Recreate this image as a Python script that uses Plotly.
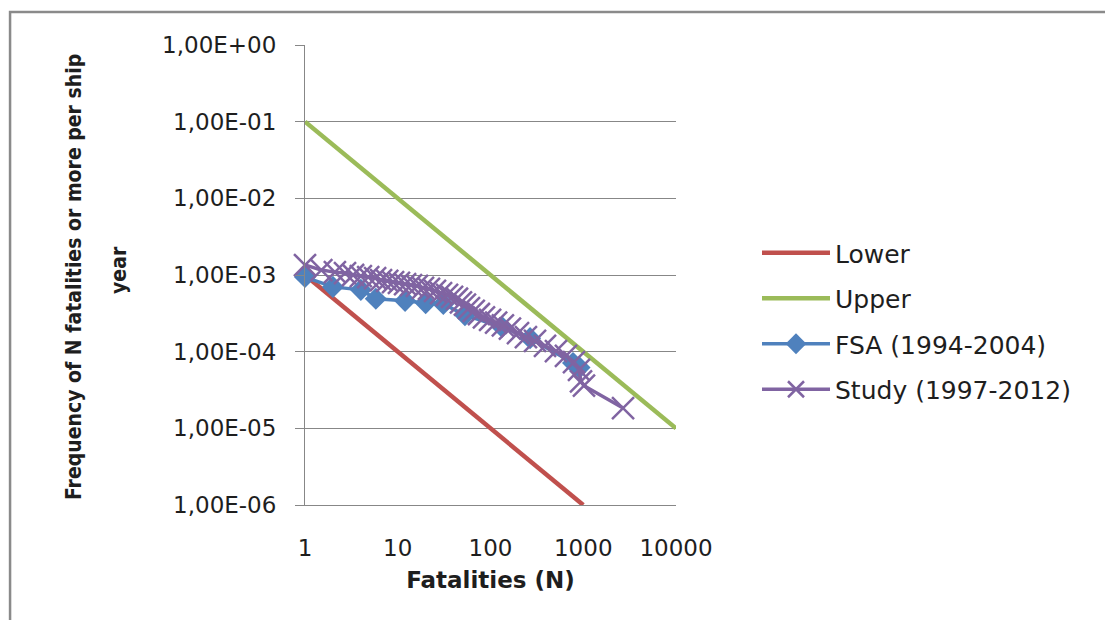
import plotly.graph_objects as go

# Tolerability criteria (F-N limit lines)
lower_n = [1, 1000]
lower_f = [1e-3, 1e-6]
upper_n = [1, 10000]
upper_f = [1e-1, 1e-5]

# FSA (1994-2004) F-N curve
fsa_n = [1, 2.0, 4.0, 5.8, 12, 20, 31, 53, 133, 267, 776, 912]
fsa_f = [9.4e-4, 7.0e-4, 6.4e-4, 4.9e-4, 4.6e-4, 4.3e-4, 4.2e-4, 3.0e-4, 2.1e-4, 1.5e-4, 7.1e-5, 6.2e-5]

# Study (1997-2012) F-N curve
study_n = [1, 1.5, 2.1, 2.7, 3.3, 4.0, 4.8, 5.7, 6.6, 7.7, 8.9, 10.3, 12, 13.9, 16.1,
           18.7, 21.7, 25.2, 29.3, 34, 38.5, 43.5, 48, 53, 58.6, 66, 75, 85, 99, 115,
           136, 162, 198, 241, 302, 387, 508, 651, 795, 900, 946, 1018, 2685]
study_f = [1.35e-3, 1.16e-3, 1.09e-3, 1.06e-3, 1.0e-3, 9.7e-4, 9.4e-4, 9.1e-4, 8.6e-4,
           8.4e-4, 8.1e-4, 7.9e-4, 7.6e-4, 7.4e-4, 7.2e-4, 6.8e-4, 6.6e-4, 6.2e-4,
           5.8e-4, 5.5e-4, 5.2e-4, 4.9e-4, 4.4e-4, 4.1e-4, 3.7e-4, 3.4e-4, 3.1e-4,
           2.8e-4, 2.6e-4, 2.4e-4, 2.2e-4, 2.0e-4, 1.75e-4, 1.55e-4, 1.38e-4, 1.19e-4,
           1.02e-4, 8.8e-5, 7.3e-5, 5.8e-5, 4.1e-5, 3.6e-5, 1.84e-5]

# Axis ticks
x_tickvals = [1, 10, 100, 1000, 10000]
x_ticktext = ["1", "10", "100", "1000", "10000"]
y_tickvals = [1, 1e-1, 1e-2, 1e-3, 1e-4, 1e-5, 1e-6]
y_ticktext = ["1,00E+00", "1,00E-01", "1,00E-02", "1,00E-03", "1,00E-04", "1,00E-05", "1,00E-06"]

RED = "#C0504D"
GREEN = "#9BBB59"
BLUE = "#4F81BD"
PURPLE = "#8064A2"
GRID = "#878787"
TEXT = "#1e1e1e"

fig = go.Figure()
fig.add_trace(go.Scatter(x=lower_n, y=lower_f, mode="lines", name="Lower",
                         line=dict(color=RED, width=4.5), legendgroup="a"))
fig.add_trace(go.Scatter(x=upper_n, y=upper_f, mode="lines", name="Upper",
                         line=dict(color=GREEN, width=4.5), legendgroup="b"))
fig.add_trace(go.Scatter(x=fsa_n, y=fsa_f, mode="lines+markers", name="FSA (1994-2004)",
                         line=dict(color=BLUE, width=3.5),
                         marker=dict(symbol="diamond", size=17, color=BLUE),
                         cliponaxis=False, legendgroup="c"))
fig.add_trace(go.Scatter(x=study_n, y=study_f, mode="lines+markers", name="Study (1997-2012)",
                         line=dict(color=PURPLE, width=3.5),
                         marker=dict(symbol="x-thin", size=22, color=PURPLE,
                                     line=dict(color=PURPLE, width=2.5)),
                         cliponaxis=False, legendgroup="d"))

# Frame around the chart area
fig.add_shape(type="path", xref="paper", yref="paper",
              path="M -0.795,-0.3 L -0.795,1.072 L 2.2,1.072",
              line=dict(color="#8a8a8a", width=2.5), layer="below")

# Y-axis title (two lines)
ytitle_font = dict(family="DejaVu Sans Condensed", size=21, color=TEXT)
fig.add_annotation(text="<b>Frequency of N fatalities or more per ship</b>", textangle=-90,
                   xref="paper", yref="paper", x=(74 - 305) / 371, y=(505 - 277) / 460,
                   xanchor="center", yanchor="middle", showarrow=False, font=ytitle_font)
fig.add_annotation(text="<b>year</b>", textangle=-90,
                   xref="paper", yref="paper", x=(119 - 305) / 371, y=(505 - 270) / 460,
                   xanchor="center", yanchor="middle", showarrow=False, font=ytitle_font)

fig.update_xaxes(type="log", range=[0, 4], tickvals=x_tickvals, ticktext=x_ticktext,
                 showgrid=False, zeroline=False, showline=True, linecolor=GRID, linewidth=1,
                 ticks="", ticklabelstandoff=22,
                 tickfont=dict(family="DejaVu Sans", size=23, color=TEXT),
                 title=dict(text="<b>Fatalities (N)</b>", standoff=12,
                            font=dict(family="DejaVu Sans", size=23, color=TEXT)))
fig.update_yaxes(type="log", range=[-6, 0], tickvals=y_tickvals, ticktext=y_ticktext,
                 showgrid=True, gridcolor=GRID, gridwidth=1, zeroline=False,
                 showline=True, linecolor=GRID, linewidth=1,
                 ticks="outside", ticklen=9, tickcolor=GRID, ticklabelstandoff=14,
                 tickfont=dict(family="DejaVu Sans", size=23, color=TEXT))

fig.update_layout(
    width=1105, height=620,
    margin=dict(l=305, r=429, t=45, b=115),
    plot_bgcolor="white", paper_bgcolor="white",
    legend=dict(x=(757 - 305) / 371, y=(505 - 321) / 460, xanchor="left", yanchor="middle",
                font=dict(family="DejaVu Sans", size=25, color=TEXT),
                tracegroupgap=10, itemwidth=68, bgcolor="rgba(0,0,0,0)"),
)

fig.write_html("out.html")
